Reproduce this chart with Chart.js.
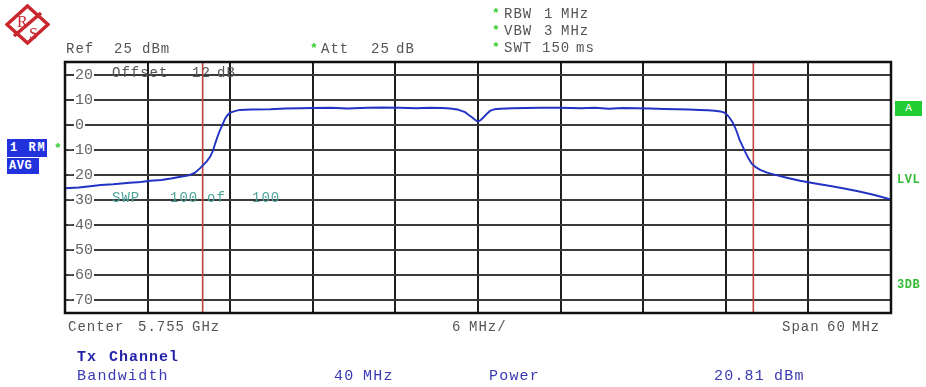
<!DOCTYPE html>
<html>
<head>
<meta charset="utf-8">
<script src="https://cdn.jsdelivr.net/npm/chart.js@4.4.1/dist/chart.umd.min.js"></script>
<style>
  html, body { margin: 0; padding: 0; background: #fff; }
  #wrap { position: relative; width: 926px; height: 387px; overflow: hidden; font-family: "Liberation Mono", monospace; }
  #c { position: absolute; left: 0; top: 0; }
  .t { position: absolute; white-space: pre; transform: translateY(-50%); line-height: 1; }
  .g { color: #555; font-size: 14px; letter-spacing: 1px; }
  .st { color: #33cc33; font-size: 13px; font-weight: bold; }
  .teal { color: #4ea59c; font-size: 14px; letter-spacing: 1px; }
  .b { color: #3a3ab4; font-size: 15px; letter-spacing: 1.2px; }
  .bb { color: #2424a8; font-size: 15px; font-weight: bold; letter-spacing: 1px; }
  .box { position: absolute; color: #fff; font-weight: bold; font-size: 12px; line-height: 1; box-sizing: border-box; }
  .grn { color: #33bb33; font-size: 12px; font-weight: bold; letter-spacing: 0.5px; }
</style>
</head>
<body>
<div id="wrap">
  <canvas id="c" width="926" height="387"></canvas>

  <svg style="position:absolute;left:5px;top:4px" width="45" height="41" viewBox="0 0 45 41">
    <polygon points="22.5,2 43,20.5 22.5,39 2,20.5" fill="#fff" stroke="#c8282e" stroke-width="3.5"/>
    <line x1="9" y1="32" x2="36" y2="9" stroke="#c8282e" stroke-width="3.5"/>
    <text x="12" y="23" font-family="Liberation Serif, serif" font-size="16" fill="#c8282e">R</text>
    <text x="24" y="35" font-family="Liberation Serif, serif" font-size="16" fill="#c8282e">S</text>
  </svg>

  <!-- header -->
  <div class="t g" style="left:66px;top:49px">Ref</div>
  <div class="t g" style="left:114px;top:49px">25</div>
  <div class="t g" style="left:142px;top:49px">dBm</div>

  <div class="t st" style="left:310px;top:48px">*</div>
  <div class="t g" style="left:321px;top:49px">Att</div>
  <div class="t g" style="left:371px;top:49px">25</div>
  <div class="t g" style="left:396px;top:49px">dB</div>

  <div class="t st" style="left:492px;top:13px">*</div>
  <div class="t g" style="left:504px;top:14px">RBW</div>
  <div class="t g" style="left:544px;top:14px">1</div>
  <div class="t g" style="left:561px;top:14px">MHz</div>

  <div class="t st" style="left:492px;top:30px">*</div>
  <div class="t g" style="left:504px;top:31px">VBW</div>
  <div class="t g" style="left:544px;top:31px">3</div>
  <div class="t g" style="left:561px;top:31px">MHz</div>

  <div class="t st" style="left:492px;top:47px">*</div>
  <div class="t g" style="left:504px;top:48px">SWT</div>
  <div class="t g" style="left:542px;top:48px">150</div>
  <div class="t g" style="left:576px;top:48px">ms</div>

  <!-- in-plot notes -->
  <div class="t g" style="left:112px;top:73px">Offset</div>
  <div class="t g" style="left:192px;top:73px">12</div>
  <div class="t g" style="left:217px;top:73px">dB</div>

  <div class="t teal" style="left:112px;top:198px">SWP</div>
  <div class="t teal" style="left:170px;top:198px">100</div>
  <div class="t teal" style="left:207px;top:198px">of</div>
  <div class="t teal" style="left:252px;top:198px">100</div>

  <!-- left trace labels -->
  <div class="box" style="left:7px;top:139px;width:40px;height:18px;background:#2233dd;padding:3px 0 0 3px;letter-spacing:2px">1 RM</div>
  <div class="box" style="left:7px;top:158px;width:32px;height:16px;background:#2233dd;padding:2px 0 0 2px;letter-spacing:0.5px">AVG</div>
  <div class="t st" style="left:54px;top:148px">*</div>

  <!-- right labels -->
  <div class="box" style="left:895px;top:101px;width:27px;height:15px;background:#22cc33;text-align:center;padding-top:2px;font-weight:normal;font-size:11px">A</div>
  <div class="t grn" style="left:897px;top:180px">LVL</div>
  <div class="t grn" style="left:897px;top:285px">3DB</div>

  <!-- footer -->
  <div class="t g" style="left:68px;top:327px">Center</div>
  <div class="t g" style="left:138px;top:327px">5.755</div>
  <div class="t g" style="left:192px;top:327px">GHz</div>
  <div class="t g" style="left:452px;top:327px">6</div>
  <div class="t g" style="left:469px;top:327px">MHz/</div>
  <div class="t g" style="left:782px;top:327px">Span</div>
  <div class="t g" style="left:827px;top:327px">60</div>
  <div class="t g" style="left:852px;top:327px">MHz</div>

  <div class="t bb" style="left:77px;top:357px">Tx</div>
  <div class="t bb" style="left:109px;top:357px">Channel</div>
  <div class="t b" style="left:77px;top:376px">Bandwidth</div>
  <div class="t b" style="left:334px;top:376px">40</div>
  <div class="t b" style="left:363px;top:376px">MHz</div>
  <div class="t b" style="left:489px;top:376px">Power</div>
  <div class="t b" style="left:714px;top:376px">20.81</div>
  <div class="t b" style="left:774px;top:376px">dBm</div>
</div>

<script>
// Frequency offset from centre (MHz) and measured level (dBm)
const freqMHz = [
  -30, -29, -28, -27.4, -26.5, -25.3, -24.5, -23.8, -23, -22.3, -21.6, -21, -20.55, -20.2, -19.97,
  -19.7, -19.45, -19.25, -19.1, -18.9, -18.7, -18.5, -18.37, -18.2, -18.0, -17.6, -17.3, -16.5,
  -15.1, -14, -12.9, -12, -10.7, -9.5, -8, -7, -5.7, -4.5, -3.5, -2.6, -2.0, -1.5, -1.2, -0.94,
  -0.7, -0.44, -0.2, 0, 0.2, 0.44, 0.65, 0.87, 1.2, 1.6, 2.5, 3.5, 4.5, 6.0, 7.5, 8.5, 9.5, 10.5,
  11.5, 12.5, 13.5, 14.5, 15.3, 16.1, 16.7, 17.2, 17.6, 17.9, 18.1, 18.3, 18.5, 18.7, 18.85, 19.0,
  19.2, 19.4, 19.65, 19.9, 20.2, 20.5, 21.0, 21.6, 22.5, 23.4, 24.5, 25.6, 26.6, 27.7, 28.8, 30
];
const levelDbm = [
  -25.3, -25.0, -24.4, -24.0, -23.7, -23.1, -22.8, -22.3, -22.0, -21.4, -20.7, -20.2, -19.1, -17.4, -16.1,
  -14.6, -12.7, -10.3, -7.6, -4.4, -1.6, 0.8, 2.4, 3.8, 4.8, 5.5, 5.9, 6.1,
  6.2, 6.5, 6.6, 6.7, 6.8, 6.5, 6.8, 6.9, 6.8, 6.6, 6.8, 6.7, 6.5, 6.1, 5.5, 5.0,
  4.0, 3.0, 1.9, 1.2, 1.9, 3.2, 4.4, 5.5, 6.2, 6.4, 6.6, 6.7, 6.8, 6.8, 6.6, 6.8, 6.4, 6.7,
  6.6, 6.5, 6.3, 6.2, 6.1, 5.9, 5.8, 5.6, 5.3, 4.8, 3.9, 2.6, 0.9, -1.4, -3.6, -6.0,
  -8.3, -10.7, -13.5, -15.6, -17.0, -18.0, -19.1, -20.0, -21.2, -22.3, -23.4, -24.4, -25.4, -26.6, -28.0, -29.8
];
// Channel bandwidth limits (MHz offset)
const channelLimits = [-20, 20];
// Y axis tick values (dBm)
const yTickValues = [20, 10, 0, -10, -20, -30, -40, -50, -60, -70];
const yRange = [-75, 25];
const xRange = [-30, 30];
const xStep = 6;

const traceData = freqMHz.map((f, i) => ({ x: f, y: levelDbm[i] }));
const limitSets = channelLimits.map(f => ({
  data: [{ x: f, y: yRange[1] }, { x: f, y: yRange[0] }],
  borderColor: '#c0443c',
  borderWidth: 1.6,
  pointRadius: 0,
  fill: false
}));

const framePlugin = {
  id: 'frame',
  afterDatasetsDraw(chart) {
    const a = chart.chartArea, ctx = chart.ctx;
    ctx.save();
    ctx.strokeStyle = '#111';
    ctx.lineWidth = 2.5;
    ctx.strokeRect(a.left, a.top, a.right - a.left, a.bottom - a.top);
    ctx.restore();
  }
};

new Chart(document.getElementById('c'), {
  type: 'line',
  data: {
    datasets: [
      { data: traceData, borderColor: '#2233c4', borderWidth: 1.9, pointRadius: 0, fill: false, tension: 0 },
      ...limitSets
    ]
  },
  options: {
    responsive: false,
    devicePixelRatio: 1,
    animation: false,
    layout: { padding: { left: 65, right: 35, top: 62, bottom: 74 } },
    plugins: { legend: { display: false }, tooltip: { enabled: false } },
    scales: {
      x: {
        type: 'linear',
        min: xRange[0], max: xRange[1],
        ticks: { display: false, stepSize: xStep },
        grid: { color: '#1e1e1e', lineWidth: 2, drawTicks: false },
        border: { display: false },
        afterFit(s) { s.height = 0; }
      },
      y: {
        type: 'linear',
        min: yRange[0], max: yRange[1],
        afterBuildTicks(s) { s.ticks = yTickValues.map(v => ({ value: v })); },
        afterFit(s) { s.width = 0; },
        ticks: {
          mirror: true,
          padding: 1,
          color: '#666',
          font: { family: 'Liberation Mono', size: 15 },
          showLabelBackdrop: true,
          backdropColor: '#fff',
          backdropPadding: { left: -8, right: 1, top: -3, bottom: -3 },
          callback: v => (v >= 0 ? ' ' + v : String(v))
        },
        grid: { color: '#3a3a3a', lineWidth: 2, drawTicks: false },
        border: { display: false }
      }
    }
  },
  plugins: [framePlugin]
});
</script>
</body>
</html>
